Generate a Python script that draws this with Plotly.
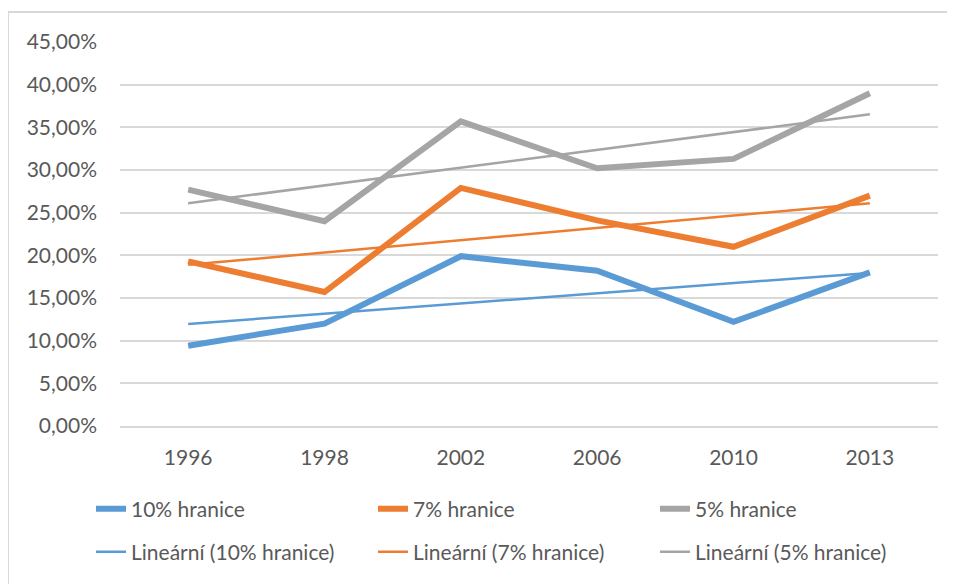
import numpy as np
import plotly.graph_objects as go

years = ["1996", "1998", "2002", "2006", "2010", "2013"]
s10 = [0.094, 0.120, 0.199, 0.182, 0.122, 0.180]
s7 = [0.193, 0.157, 0.279, 0.241, 0.210, 0.270]
s5 = [0.277, 0.240, 0.357, 0.302, 0.313, 0.390]
names = ["10% hranice", "7% hranice", "5% hranice"]
trend_names = ["Lineární (10% hranice)", "Lineární (7% hranice)", "Lineární (5% hranice)"]
colors = ["#5B9BD5", "#ED7D31", "#A5A5A5"]

OFF = 8  # default page body margin
PW, PH = 955, 584
W, H = PW - OFF, PH - OFF
# plot area in page pixels: x 120..938, y 42..426
L, T = 120 - OFF, 42 - OFF
R, B = PW - 938, PH - 426
pw, ph = W - L - R, H - T - B

def px_x(p):
    return (p - OFF - L) / pw

def px_y(p):
    return (H - B - (p - OFF)) / ph

fig = go.Figure()
idx = np.arange(1, len(years) + 1)
for name, vals, col in zip(names, [s10, s7, s5], colors):
    fig.add_trace(go.Scatter(x=years, y=vals, mode="lines", name=name,
                             line=dict(color=col, width=6), legend="legend"))
for name, vals, col in zip(trend_names, [s10, s7, s5], colors):
    k, q = np.polyfit(idx, vals, 1)
    fig.add_trace(go.Scatter(x=years, y=list(k * idx + q), mode="lines", name=name,
                             line=dict(color=col, width=2.5), legend="legend2"))

font = dict(family="Lato, 'Open Sans', sans-serif", size=21, color="#595959")
legend_common = dict(orientation="h", xanchor="left", yanchor="middle",
                     font=font, entrywidth=237, bgcolor="rgba(0,0,0,0)",
                     tracegroupgap=0, itemwidth=30)

fig.update_layout(
    width=W, height=H,
    margin=dict(l=L, r=R, t=T, b=B, pad=0),
    paper_bgcolor="white", plot_bgcolor="white",
    separators=", ",
    font=font,
    showlegend=True,
    legend=dict(x=px_x(91), y=px_y(509), **legend_common),
    legend2=dict(x=px_x(91), y=px_y(552), **legend_common),
    xaxis=dict(type="category", range=[-0.5, len(years) - 0.5], showgrid=False,
               showline=True, linecolor="#D9D9D9",
               linewidth=2, ticks="", tickfont=font, ticklabelstandoff=12, fixedrange=True),
    yaxis=dict(range=[0, 0.45], dtick=0.05, tickformat=".2%", showgrid=True,
               gridcolor="#D9D9D9", gridwidth=2, zeroline=False, showline=False,
               ticks="", tickfont=font, ticklabelstandoff=22),
    shapes=[dict(type="rect", xref="paper", yref="paper",
                 x0=px_x(8), x1=px_x(PW + 20), y0=px_y(PH + 20), y1=px_y(12),
                 line=dict(color="#D9D9D9", width=2), layer="below")],
)

fig.write_html("out.html")
